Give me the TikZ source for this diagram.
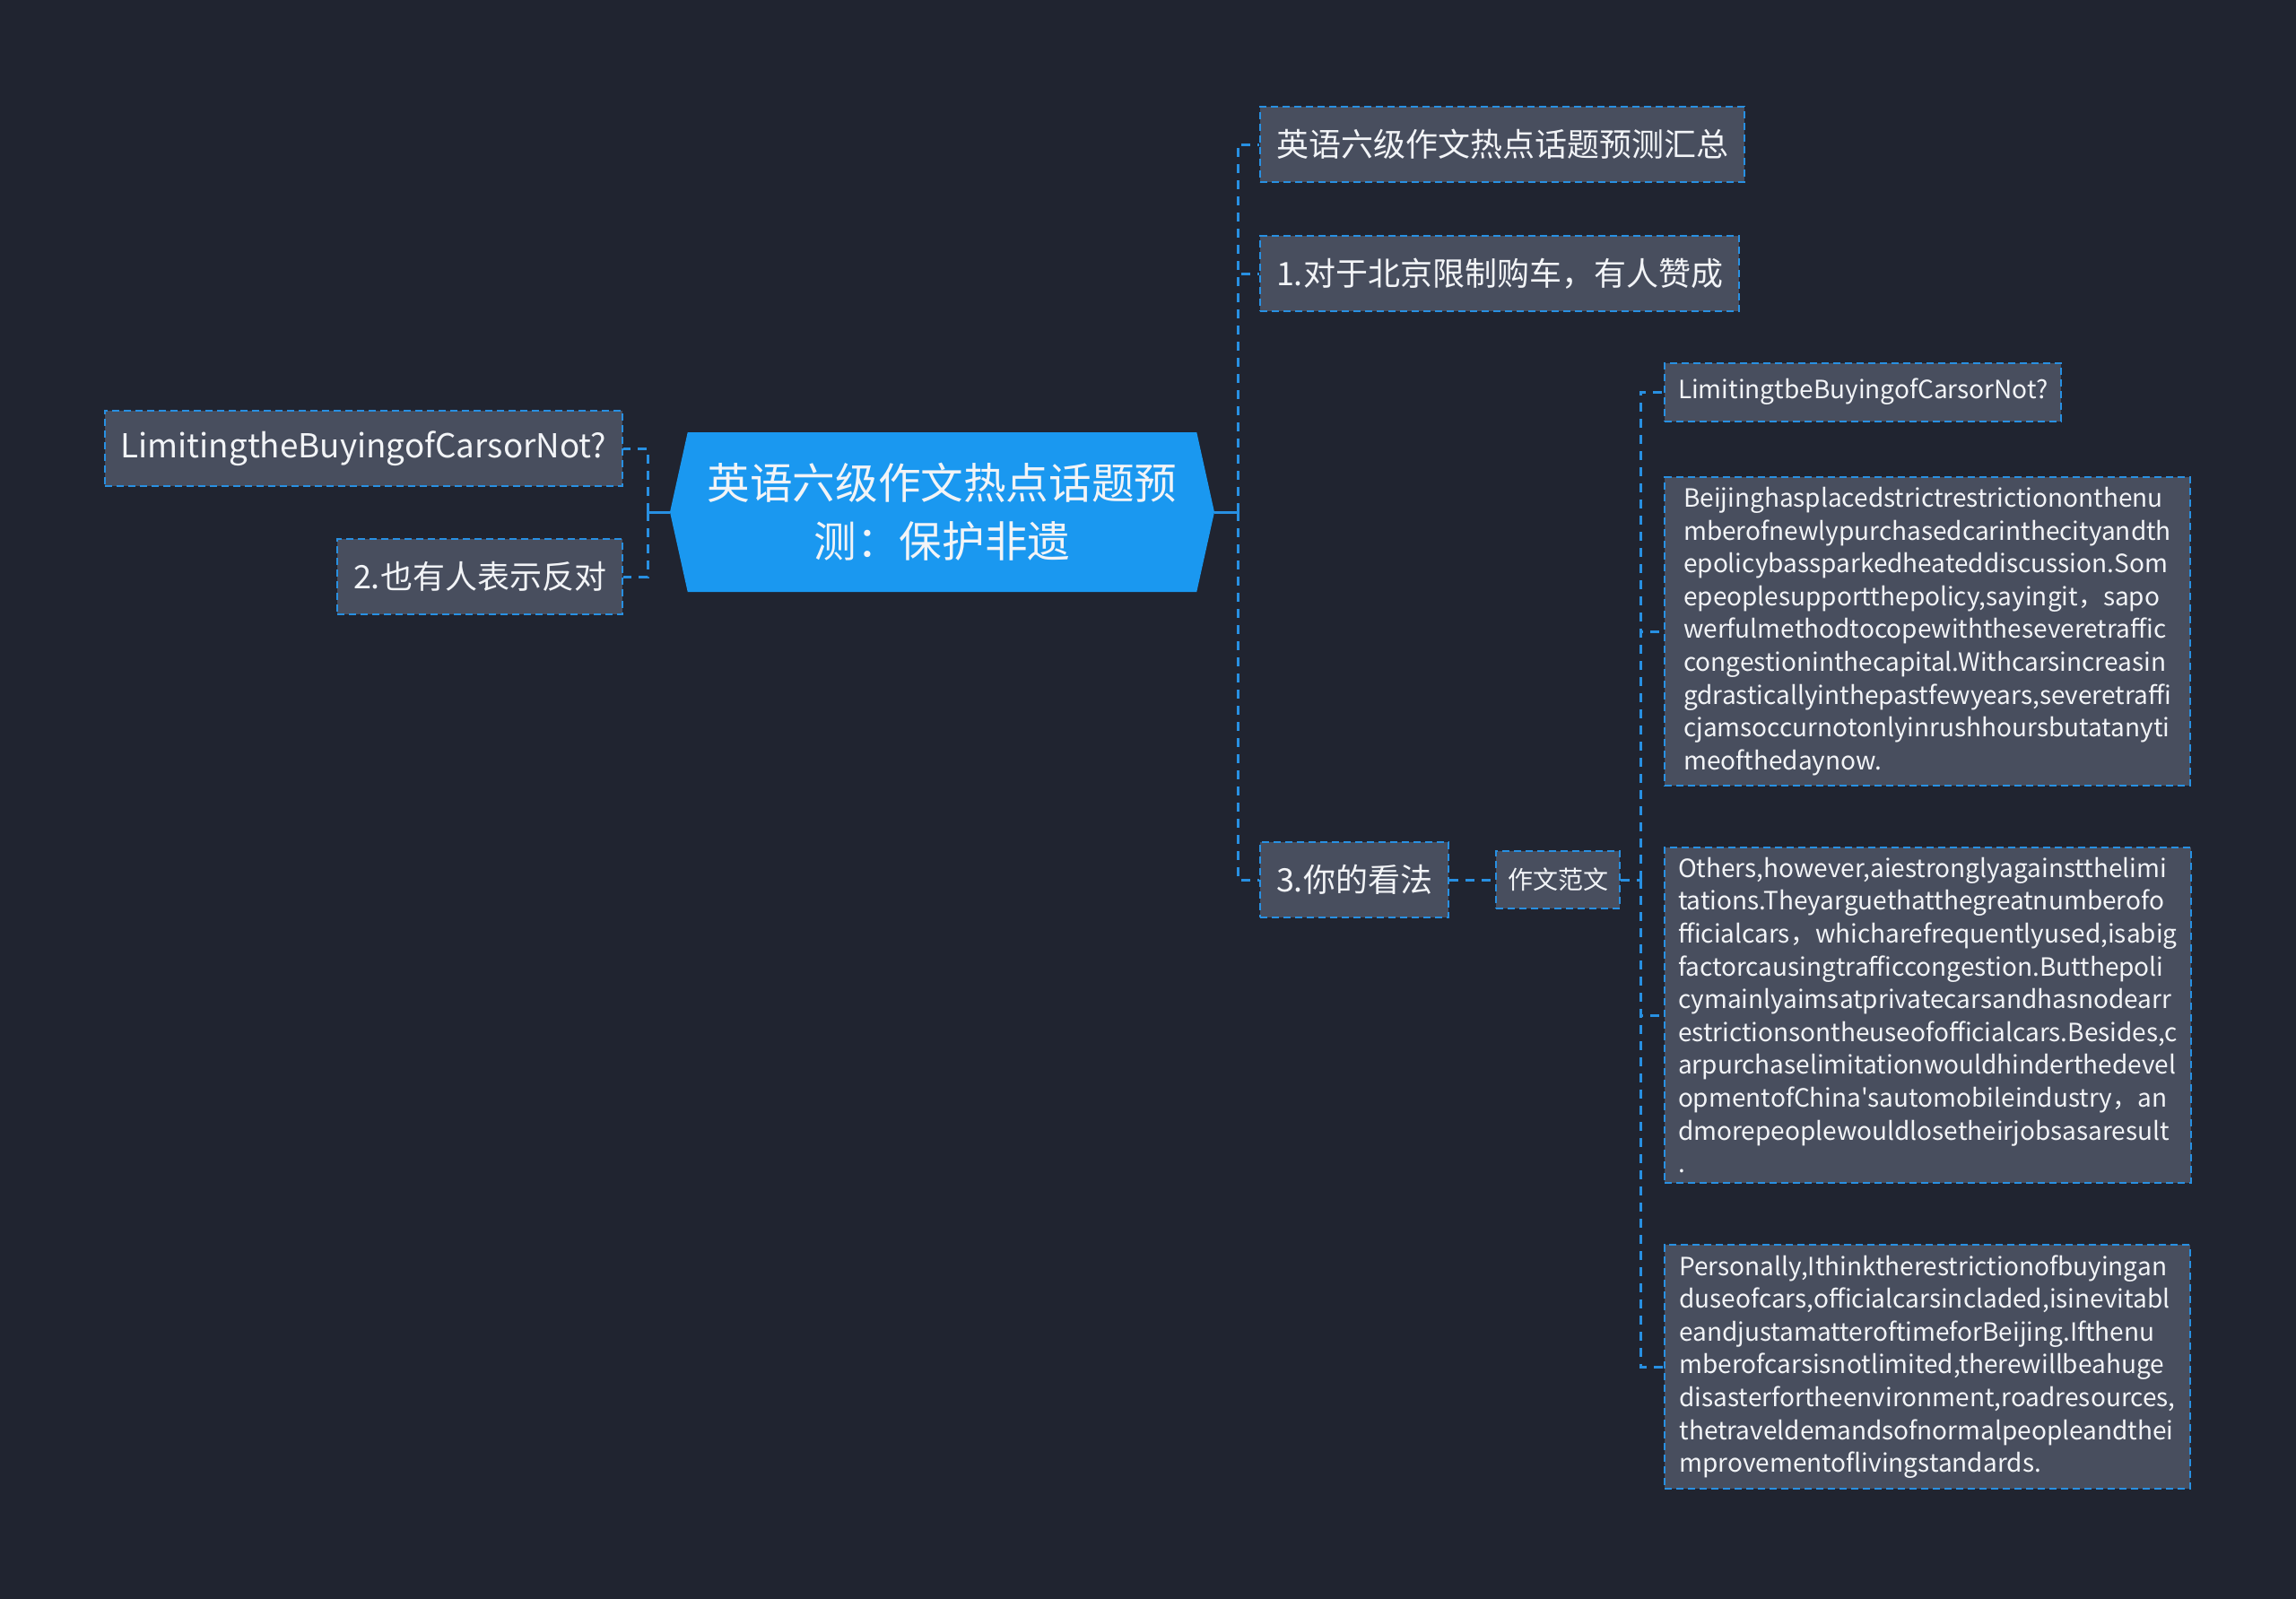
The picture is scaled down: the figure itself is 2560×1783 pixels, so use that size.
\documentclass[tikz,border=0pt]{standalone}
\usepackage{fontspec}
\usepackage{tikz}
\usetikzlibrary{positioning,shapes.symbols}
\newfontfamily\cjk{Noto Sans CJK SC}
\definecolor{bgdark}{RGB}{32,36,48}
\definecolor{nodegray}{RGB}{72,78,94}
\definecolor{rootblue}{RGB}{26,152,240}
\definecolor{lineblue}{RGB}{40,144,226}
\definecolor{textwhite}{RGB}{242,244,247}

\begin{document}
\begin{tikzpicture}[x=0.5pt, y=-0.5pt,
  topic/.style={draw=lineblue, line width=1pt, dash pattern=on 4pt off 2.5pt, fill=nodegray, text=textwhite, inner sep=0pt, inner xsep=9pt, minimum height=42pt, font=\cjk\fontsize{18}{22}\selectfont},
  subtopic/.style={topic, inner xsep=7.5pt, minimum height=32.5pt, font=\cjk\fontsize{14}{18.3}\selectfont},
  essay/.style={subtopic, align=left, inner ysep=5.5pt, minimum width=293pt},
  link/.style={draw=lineblue, line width=1.5pt, dash pattern=on 5pt off 4pt},
  stub/.style={draw=lineblue, line width=1.5pt}]
 \fill[bgdark] (0,0) rectangle (2560,1783);

 \node[signal, signal to=east and west, signal pointer angle=155, fill=rootblue, text=textwhite, minimum width=303.5pt, minimum height=89pt, inner sep=0pt, align=center, font=\cjk\fontsize{23.8}{32.5}\selectfont] (root) at (1050.5,571) {英语六级作文热点话题预\\测：保护非遗};

 \node[topic, font=\cjk\fontsize{18.4}{22}\selectfont, anchor=east] (limit) at (695,500) {LimitingtheBuyingofCarsorNot?};
 \node[topic, anchor=east] (oppose) at (695,643) {2.也有人表示反对};

 \node[topic, anchor=west] (summary) at (1404,161) {英语六级作文热点话题预测汇总};
 \node[topic, anchor=west] (favor) at (1404,305) {1.对于北京限制购车，有人赞成};
 \node[topic, anchor=west] (view) at (1404,981) {3.你的看法};
 \node[subtopic, minimum height=32pt, inner xsep=6.5pt, right=25.5pt of view] (sample) {作文范文};

 \node[subtopic, anchor=west] (title) at (1855,437) {LimitingtbeBuyingofCarsorNot?};
 \node[essay, anchor=west] (para1) at (1855,704) {Beijinghasplacedstrictrestrictiononthenu\\mberofnewlypurchasedcarinthecityandth\\epolicybassparkedheateddiscussion.Som\\epeoplesupportthepolicy,sayingit，sapo\\werfulmethodtocopewiththeseveretraffic\\congestioninthecapital.Withcarsincreasin\\gdrasticallyinthepastfewyears,severetraffi\\cjamsoccurnotonlyinrushhoursbutatanyti\\meofthedaynow.};
 \node[essay, anchor=west] (para2) at (1855,1132) {Others,however,aiestronglyagainstthelimi\\tations.Theyarguethatthegreatnumberofo\\fficialcars，whicharefrequentlyused,isabig\\factorcausingtrafficcongestion.Butthepoli\\cymainlyaimsatprivatecarsandhasnodearr\\estrictionsontheuseofofficialcars.Besides,c\\arpurchaselimitationwouldhinderthedevel\\opmentofChina'sautomobileindustry，an\\dmorepeoplewouldlosetheirjobsasaresult\\.};
 \node[essay, anchor=west] (para3) at (1855,1524) {Personally,Ithinktherestrictionofbuyingan\\duseofcars,officialcarsincladed,isinevitabl\\eandjustamatteroftimeforBeijing.Ifthenu\\mberofcarsisnotlimited,therewillbeahuge\\disasterfortheenvironment,roadresources,\\thetraveldemandsofnormalpeopleandthei\\mprovementoflivingstandards.};

 \coordinate (lhub) at (722,571);
 \coordinate (rhub) at (1380,571);
 \coordinate (shub) at (1829,981);

 \draw[stub] (root.west) -- (lhub);
 \draw[stub] (root.east) -- (rhub);
 \draw[link] (lhub) |- (limit.east);
 \draw[link] (lhub) |- (oppose.east);
 \draw[link] (rhub) |- (summary.west);
 \draw[link] (rhub) |- (favor.west);
 \draw[link] (rhub) |- (view.west);
 \draw[link] (view) -- (sample);
 \draw[link] (sample) -- (shub);
 \draw[link] (shub) |- (title.west);
 \draw[link] (shub) |- (para1.west);
 \draw[link] (shub) |- (para2.west);
 \draw[link] (shub) |- (para3.west);
\end{tikzpicture}
\end{document}
